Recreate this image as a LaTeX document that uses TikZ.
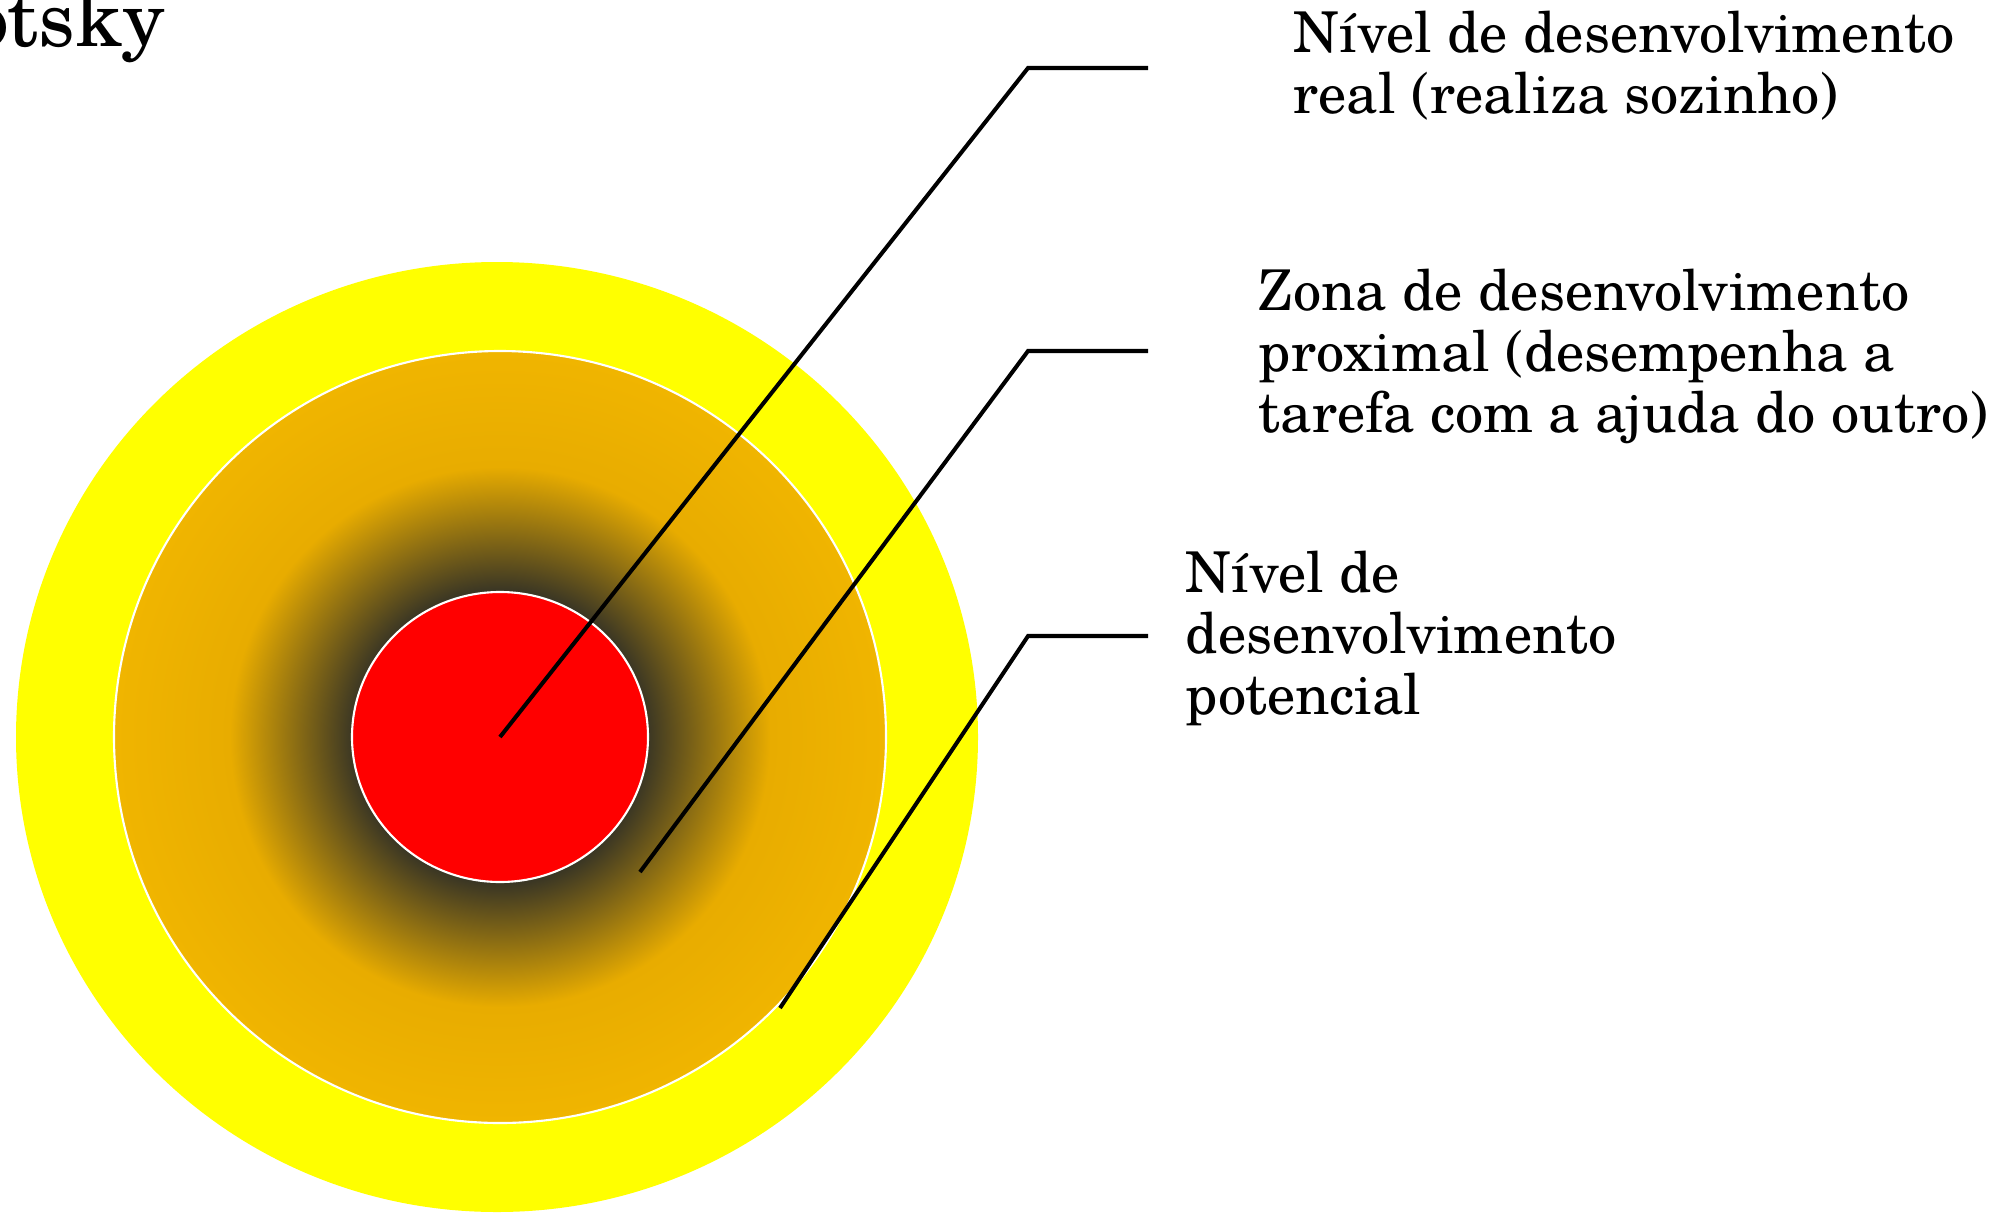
\documentclass[tikz,border=0pt]{standalone}
\usepackage{fontspec}
\setmainfont{texgyreschola-regular.otf}
\usetikzlibrary{positioning}

\definecolor{zonayellow}{RGB}{255,255,0}
\definecolor{zonaorange}{RGB}{232,172,0}
\definecolor{zonaouter}{RGB}{240,181,0}
\definecolor{zonadark}{RGB}{58,54,36}
\definecolor{zonared}{RGB}{255,0,0}

% 25bp = raio do circulo
\pgfdeclareradialshading{zonaglow}{\pgfpoint{0bp}{0bp}}{%
  color(0bp)=(zonadark); color(9.5bp)=(zonadark);
  color(17.5bp)=(zonaorange); color(25bp)=(zonaouter); color(50bp)=(zonaouter)}

\tikzset{
  leader/.style={line width=1.15pt, line join=miter},
  rotulo/.style={anchor=base west, align=left, inner sep=0pt,
    font=\fontsize{16}{17.3}\selectfont},
}

\begin{document}
\begin{tikzpicture}[x=0.01cm, y=-0.01cm]
    \useasboundingbox (0,0) rectangle (2003,1212);
    \pgfmathsetmacro{\cx}{500};
    \pgfmathsetmacro{\cy}{737};

    % circulos
    \fill [zonayellow] (497,\cy) ellipse [x radius=481, y radius=475];
    \shade [shading=zonaglow, draw=white, line width=0.6pt] (\cx,\cy) circle [radius=386];
    \filldraw [fill=zonared, draw=white, line width=0.6pt] (\cx,\cy) ellipse [x radius=148, y radius=145];

    \node [anchor=base east, inner sep=0pt, font=\fontsize{22.6}{27}\selectfont] (titulo) at (166,46) {Vygotsky};

    % pontos e cotovelos
    \coordinate (real) at (\cx,\cy);
    \coordinate (proximal) at (640,872);
    \coordinate (potencial) at (780,1008);
    \coordinate (real dobra) at (1028,68);
    \coordinate (proximal dobra) at (1028,351);
    \coordinate (potencial dobra) at (1028,636);
    \coordinate (real fim) at (1148,68);
    \coordinate (proximal fim) at (1148,351);
    \coordinate (potencial fim) at (1148,636);

    \draw [leader] (real) -- (real dobra) -- (real fim);
    \draw [leader] (proximal) -- (proximal dobra) -- (proximal fim);
    \draw [leader] (potencial) -- (potencial dobra) -- (potencial fim);

    \node [rotulo] (txt real) at (1293,113) {Nível de desenvolvimento\\real (realiza sozinho)};
    \node [rotulo] (txt proximal) at (1258,432) {Zona de desenvolvimento\\proximal (desempenha a\\tarefa com a ajuda do outro)};
    \node [rotulo] (txt potencial) at (1185,714) {Nível de\\desenvolvimento\\potencial};
\end{tikzpicture}
\end{document}
